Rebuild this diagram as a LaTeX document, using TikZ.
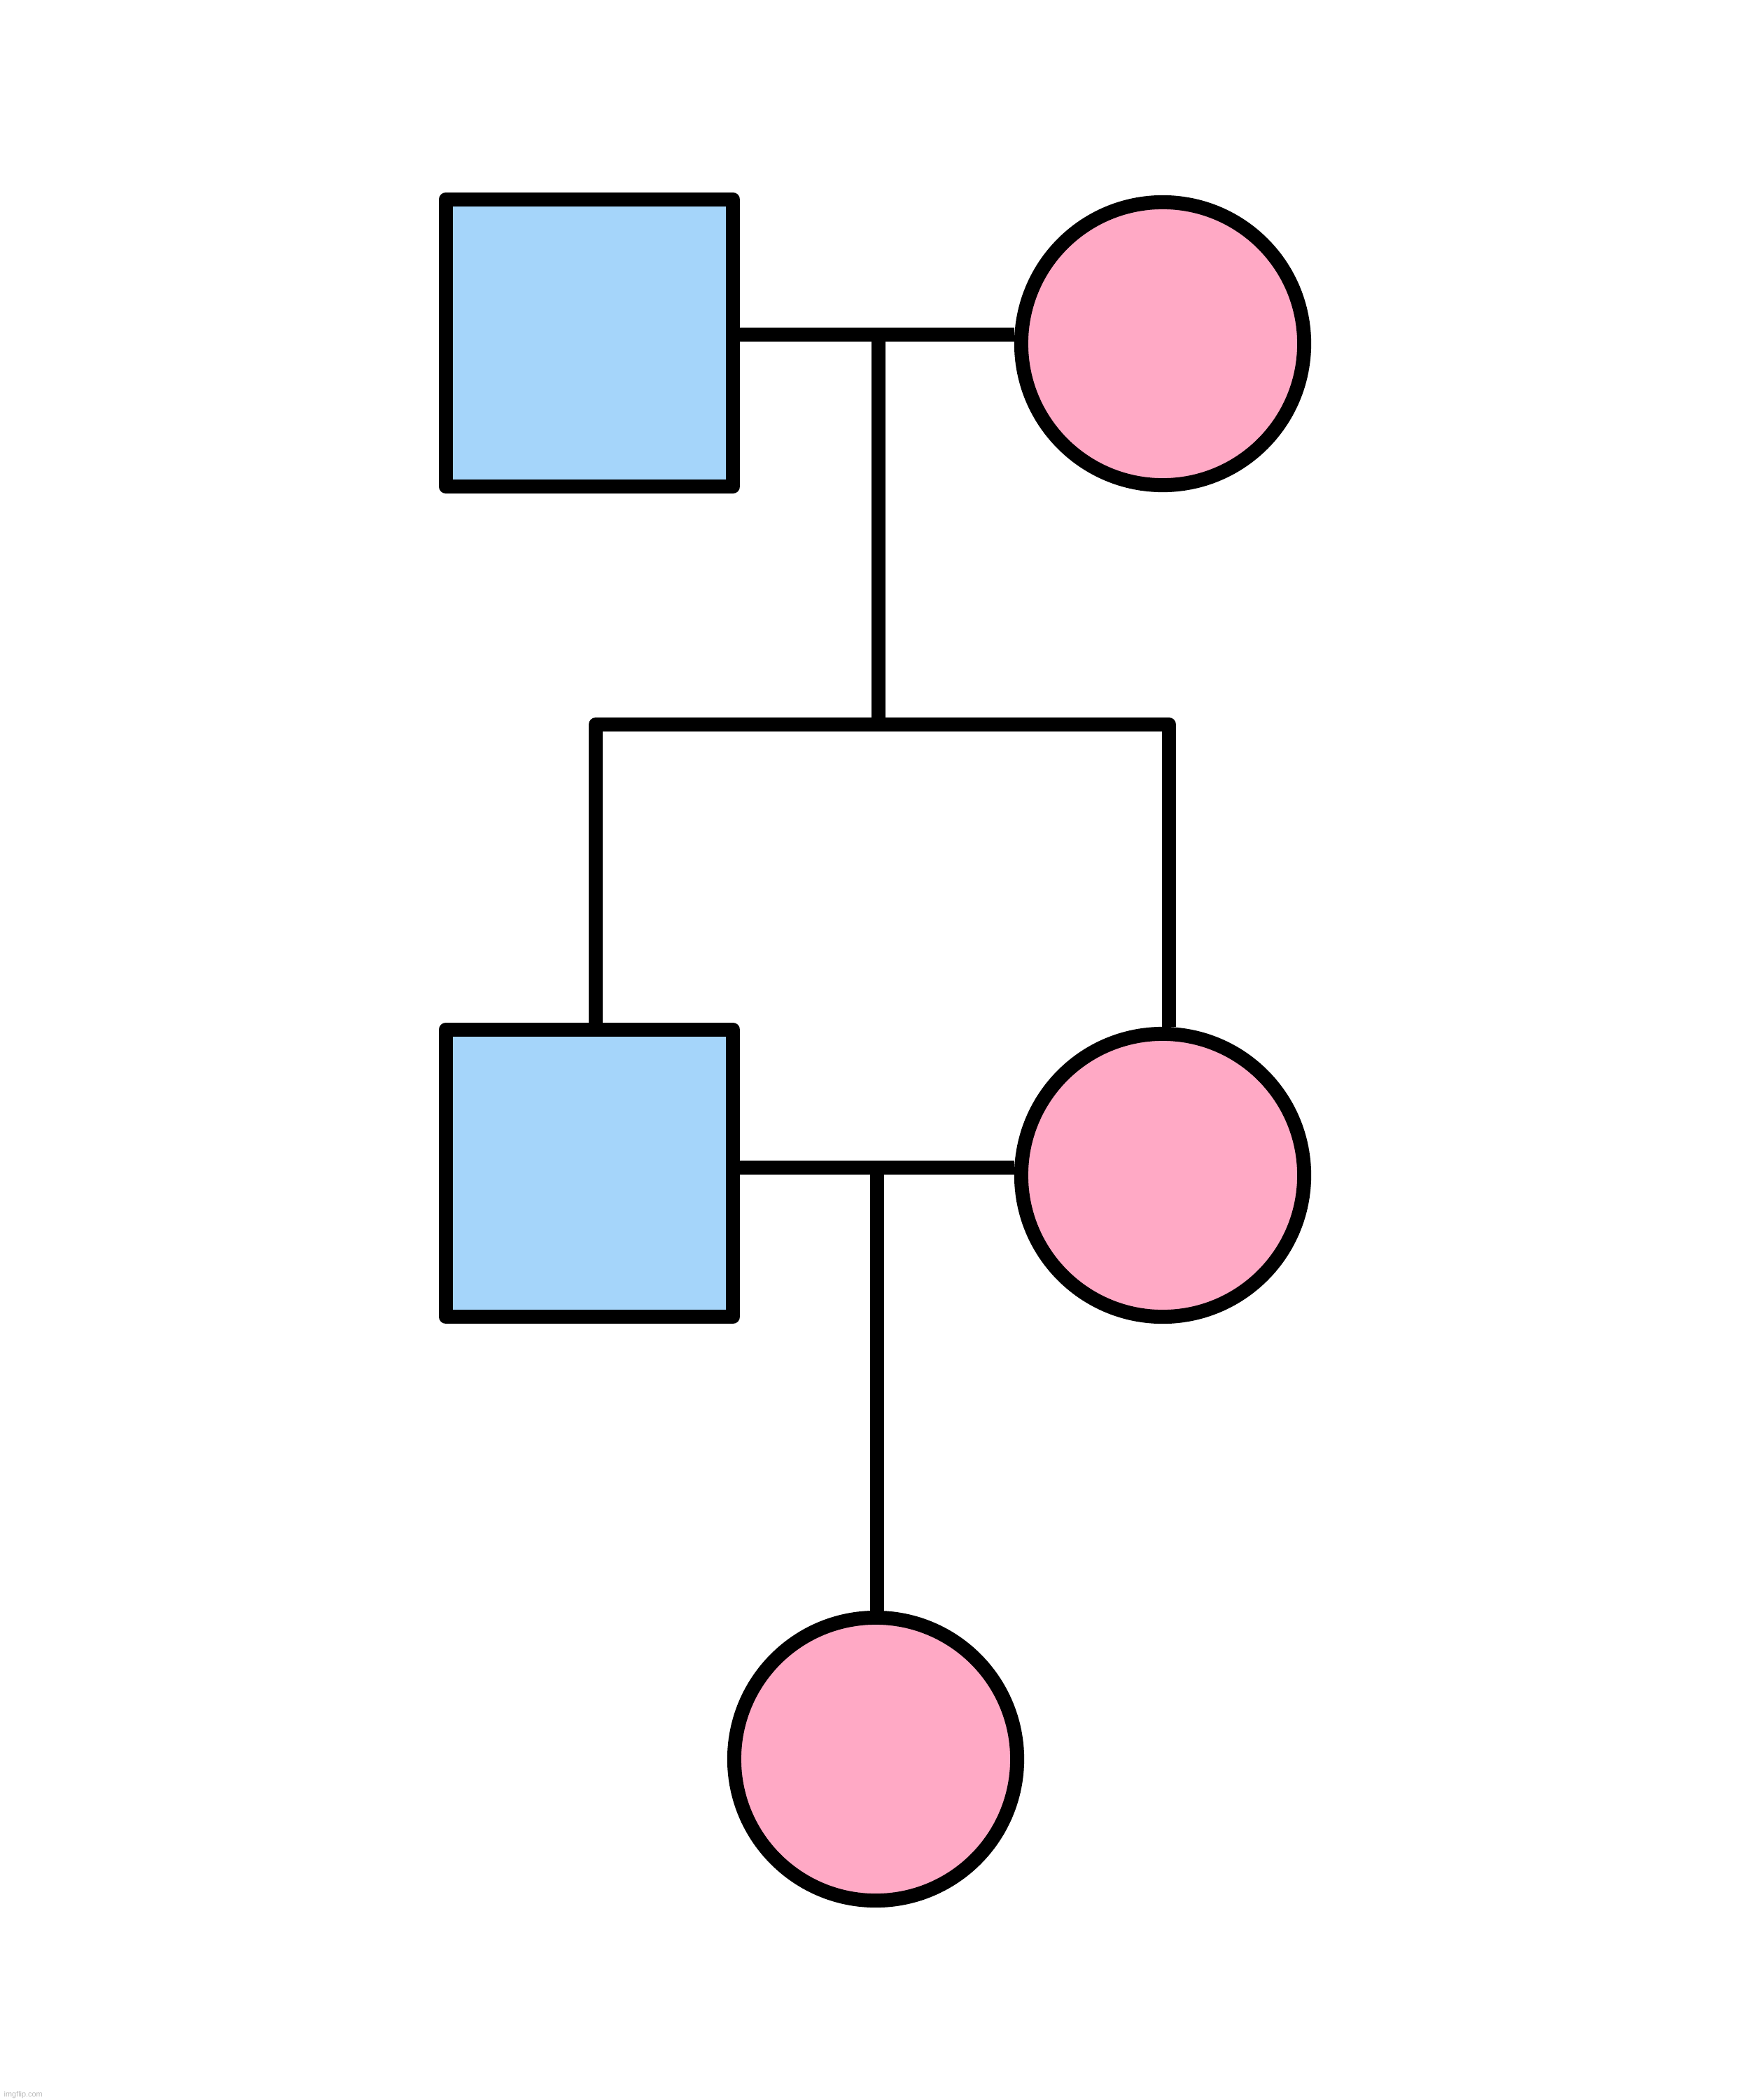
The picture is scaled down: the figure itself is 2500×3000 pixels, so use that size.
\documentclass[tikz,border=0pt]{standalone}
\usepackage{fontspec}
\newfontfamily\wmfont{Liberation Sans}
\definecolor{maleblue}{HTML}{A5D5FA}
\definecolor{femalepink}{HTML}{FFA9C5}
\definecolor{wmgray}{HTML}{BBBBBB}
\tikzset{
  male/.style={draw=black, fill=maleblue, line width=0.2cm, rectangle, minimum size=4.1cm, inner sep=0pt, line join=round},
  female/.style={draw=black, fill=femalepink, line width=0.2cm, circle, minimum size=4.04cm, inner sep=0pt},
  link/.style={draw=black, line width=0.2cm},
}
\begin{document}
\begin{tikzpicture}[x=0.01cm, y=-0.01cm]
\fill[white] (0,0) rectangle (2500,3000);
\useasboundingbox (0,0) rectangle (2500,3000);
% connector coordinates
\coordinate (mar1) at (1255,478);
\coordinate (sib) at (1255,1035);
\coordinate (sibL) at (851,1035);
\coordinate (sibR) at (1670,1035);
\coordinate (mar2) at (1253,1668);
% nodes
\node[male] (f1) at (842,490) {};
\node[female] (m1) at (1661,491) {};
\node[male] (s2) at (842,1676) {};
\node[female] (w2) at (1661,1679) {};
\node[female] (c3) at (1251,2513) {};
% connectors
\draw[link] (f1.east |- mar1) -- (m1.west |- mar1);
\draw[link] (mar1) -- (sib);
\draw[link, line join=round] (sibL |- s2.north) -- (sibL) -- (sibR) -- (sibR |- w2.north);
\draw[link] (s2.east |- mar2) -- (w2.west |- mar2);
\draw[link] (mar2) -- (mar2 |- c3.north);
% watermark
\node[anchor=base west, inner sep=0pt, text=wmgray, font=\wmfont\fontsize{3.1pt}{3.5pt}\selectfont] (wm) at (5,2995) {imgflip.com};
\end{tikzpicture}
\end{document}
